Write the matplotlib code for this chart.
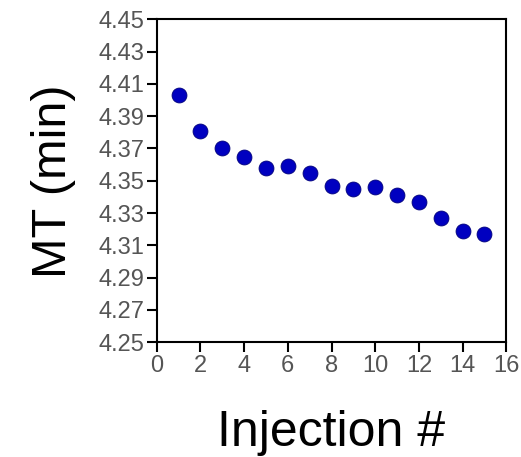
import numpy as np
import matplotlib.pyplot as plt

plt.rcParams['font.family'] = ['Liberation Sans', 'DejaVu Sans']

# data
injection = [1, 2, 3, 4, 5, 6, 7, 8, 9, 10, 11, 12, 13, 14, 15]
mt_min = [4.403, 4.381, 4.370, 4.365, 4.358, 4.359, 4.355, 4.347,
          4.345, 4.346, 4.341, 4.337, 4.327, 4.319, 4.317]
x_ticks = np.arange(0, 17, 2)
y_ticks = np.round(np.arange(4.25, 4.4501, 0.02), 2)

fig = plt.figure(figsize=(5.21, 4.57), dpi=100)
ax = fig.add_axes([0.3008, 0.251, 0.671, 0.7068])

ax.scatter(injection, mt_min, s=115, color='#0000C0', edgecolor='#00007A',
           linewidth=0.6, zorder=3)

ax.set_xlim(0, 16)
ax.set_ylim(4.25, 4.45)
ax.set_xticks(x_ticks)
ax.set_yticks(y_ticks)
ax.set_yticklabels([f'{v:.2f}' for v in y_ticks])

for s in ax.spines.values():
    s.set_linewidth(1.5)
    s.set_color('black')
ax.tick_params(axis='both', direction='out', length=7, width=1.5,
               labelsize=17, labelcolor='#555555', pad=2)

ax.set_xlabel('Injection #', fontsize=36, labelpad=24)
ax.set_ylabel('MT (min)', fontsize=35, labelpad=16)

fig.savefig('out.png', dpi=100)
